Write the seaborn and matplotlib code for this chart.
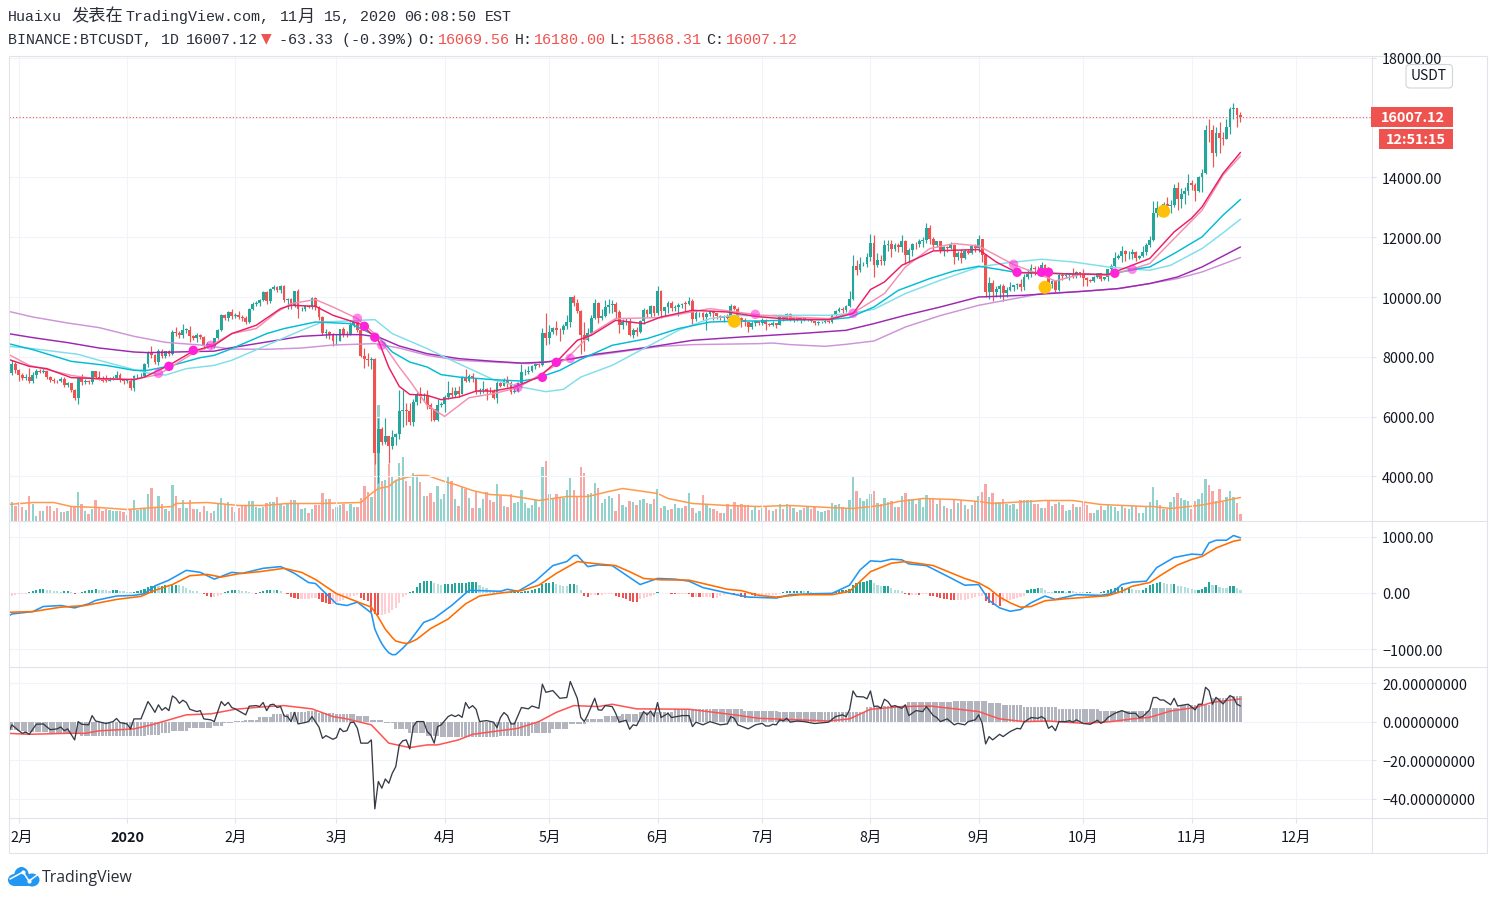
import numpy as np
import pandas as pd
import matplotlib
matplotlib.use("Agg")
import matplotlib.pyplot as plt
from matplotlib.patches import Rectangle, FancyBboxPatch, Ellipse
from matplotlib.transforms import Bbox, ScaledTranslation
import seaborn as sns

# ---------- candles, read month by month ----------
open_first = 7330
close_nov = [7450, 7750, 7555]
close_dec = [7400, 7280, 7310, 7195, 7395, 7540, 7505, 7510, 7335, 7220, 7200, 7190, 7250, 7065, 7110, 6885, 6620, 7290, 7150, 7190, 7145, 7510, 7315, 7255, 7200, 7195, 7250, 7305, 7385, 7220, 7195]
close_jan = [7200, 6965, 7345, 7355, 7355, 7760, 8150, 8055, 7815, 8195, 8020, 8185, 8110, 8815, 8810, 8720, 8900, 8910, 8700, 8635, 8725, 8660, 8385, 8430, 8340, 8615, 8910, 9390, 9285, 9505, 9350]
close_feb = [9385, 9330, 9290, 9180, 9615, 9755, 9805, 9905, 10165, 9855, 10270, 10350, 10240, 10370, 9905, 9935, 9690, 10185, 9595, 9600, 9690, 9665, 9965, 9655, 9315, 8785, 8825, 8720, 8525]
close_mar = [8525, 8915, 8760, 8755, 9070, 9155, 8905, 8040, 7935, 7895, 7935, 4800, 5575, 5165, 5360, 5030, 5330, 5410, 6180, 6210, 6185, 5810, 6495, 6765, 6680, 6735, 6375, 6250, 5880, 6395, 6410]
close_apr = [6640, 6795, 6735, 6860, 6770, 7340, 7200, 7365, 7285, 6865, 6890, 6915, 6860, 6855, 6620, 7115, 7035, 7240, 7120, 6825, 6850, 7130, 7480, 7505, 7535, 7700, 7770, 7735, 8780, 8620]
close_may = [8825, 8970, 8895, 8885, 9030, 9150, 9985, 9805, 9540, 8725, 8560, 8810, 9310, 9795, 9310, 9380, 9675, 9725, 9775, 9510, 9060, 9170, 9180, 8720, 8900, 8840, 9205, 9575, 9425, 9700, 9450]
close_jun = [10200, 9520, 9665, 9790, 9620, 9670, 9745, 9780, 9770, 9880, 9270, 9465, 9470, 9330, 9430, 9520, 9455, 9380, 9295, 9355, 9285, 9685, 9610, 9290, 9240, 9160, 9005, 9115, 9190, 9135]
close_jul = [9235, 9085, 9060, 9130, 9070, 9340, 9250, 9435, 9235, 9285, 9235, 9300, 9240, 9255, 9195, 9130, 9155, 9170, 9210, 9160, 9390, 9535, 9610, 9550, 9705, 9935, 11030, 10910, 11100, 11110, 11350]
close_aug = [11800, 11070, 11235, 11190, 11745, 11770, 11600, 11755, 11680, 11880, 11395, 11565, 11780, 11765, 11865, 11910, 12300, 11950, 11755, 11865, 11525, 11680, 11650, 11750, 11325, 11470, 11320, 11540, 11470, 11710, 11655]
close_sep = [11925, 11390, 10170, 10470, 10170, 10255, 10375, 10125, 10225, 10345, 10390, 10440, 10330, 10680, 10785, 10955, 10940, 10935, 11080, 10920, 10420, 10535, 10240, 10740, 10690, 10725, 10775, 10695, 10840, 10775]
close_oct = [10620, 10570, 10545, 10670, 10790, 10600, 10670, 10925, 11050, 11295, 11375, 11540, 11425, 11430, 11505, 11320, 11360, 11495, 11750, 11910, 12800, 12965, 12930, 13115, 13030, 13070, 13640, 13280, 13455, 13560, 13800]
close_nov2 = [13760, 13550, 14025, 14145, 15590, 15580, 14830, 15480, 15330, 15300, 15700, 16280, 16320, 16070, 16007.12]

up_nov = [60, 150, 90]
lo_nov = [120, 60, 80]
up_dec = [40, 70, 130, 300, 90, 60, 50, 130, 30, 30, 60, 40, 60, 60, 40, 20, 30, 30, 150, 60, 40, 20, 20, 220, 100, 180, 70, 60, 130, 80, 40]
lo_dec = [200, 50, 60, 70, 60, 90, 60, 40, 60, 70, 80, 50, 40, 60, 70, 60, 60, 190, 100, 60, 60, 70, 50, 40, 50, 50, 20, 30, 60, 50, 120]
up_jan = [20, 80, 60, 80, 100, 30, 40, 200, 30, 60, 60, 20, 50, 80, 170, 40, 200, 60, 130, 30, 60, 40, 50, 70, 30, 20, 30, 30, 50, 30, 100]
lo_jan = [60, 70, 100, 50, 40, 40, 100, 80, 60, 80, 60, 60, 80, 60, 100, 80, 90, 90, 200, 80, 140, 80, 130, 80, 60, 50, 30, 50, 40, 80, 100]
up_feb = [70, 150, 80, 60, 30, 70, 60, 30, 30, 50, 40, 50, 30, 30, 40, 40, 30, 20, 70, 70, 40, 50, 40, 30, 30, 40, 100, 50, 60]
lo_feb = [60, 60, 100, 80, 60, 40, 60, 90, 30, 100, 50, 50, 60, 120, 80, 320, 80, 30, 300, 70, 80, 40, 70, 100, 90, 50, 140, 110, 160]
up_mar = [225, 10, 75, 95, 100, 15, 30, 50, 265, 205, 65, 25, 380, 65, 580, 5, 230, 40, 720, 690, 240, 255, 95, 75, 225, 60, 155, 75, 10, 205, 95]
lo_mar = [125, 5, 110, 95, 15, 70, 60, 40, 305, 215, 305, 390, 1018, 110, 65, 586, 110, 295, 145, 540, 455, 80, 125, 115, 230, 155, 130, 395, 25, 20, 85]
up_apr = [95, 400, 205, 130, 155, 30, 260, 65, 90, 10, 60, 265, 55, 125, 80, 85, 35, 60, 135, 80, 95, 25, 270, 95, 165, 30, 25, 10, 170, 680]
lo_apr = [260, 50, 95, 80, 100, 5, 50, 50, 135, 115, 105, 110, 305, 65, 20, 160, 55, 25, 120, 75, 25, 40, 130, 80, 65, 55, 110, 60, 35, 220]
up_may = [235, 40, 215, 55, 70, 250, 5, 75, 115, 35, 445, 170, 85, 145, 50, 210, 225, 225, 125, 70, 50, 95, 130, 130, 75, 110, 20, 50, 35, 40, 5]
lo_may = [200, 65, 180, 355, 125, 100, 140, 105, 80, 625, 360, 25, 50, 55, 180, 90, 50, 195, 275, 210, 260, 130, 90, 20, 90, 140, 30, 95, 95, 85, 70]
up_jun = [180, 30, 15, 90, 60, 55, 55, 20, 100, 110, 70, 90, 25, 30, 70, 60, 40, 25, 20, 45, 70, 95, 35, 60, 50, 50, 20, 85, 50, 10]
lo_jun = [55, 235, 145, 215, 95, 90, 290, 105, 245, 25, 220, 60, 120, 100, 430, 55, 215, 100, 75, 125, 5, 5, 50, 90, 230, 120, 175, 65, 95, 75]
up_jul = [60, 35, 40, 70, 10, 35, 35, 35, 15, 30, 15, 45, 45, 25, 20, 15, 30, 40, 30, 15, 40, 15, 40, 40, 25, 275, 390, 220, 250, 75, 105]
lo_jul = [60, 175, 20, 40, 100, 20, 40, 20, 45, 60, 30, 90, 40, 30, 40, 50, 50, 20, 50, 40, 30, 50, 50, 100, 40, 40, 50, 180, 70, 70, 100]
up_aug = [320, 290, 250, 185, 155, 145, 145, 55, 65, 185, 40, 85, 20, 70, 70, 85, 180, 100, 70, 15, 15, 10, 40, 80, 25, 70, 120, 60, 55, 10, 75]
lo_aug = [150, 410, 70, 110, 110, 195, 255, 70, 165, 160, 295, 245, 195, 145, 85, 185, 110, 170, 185, 85, 55, 145, 130, 60, 205, 75, 190, 40, 40, 20, 135]
up_sep = [145, 30, 60, 190, 100, 105, 65, 65, 125, 145, 10, 40, 150, 100, 165, 145, 95, 100, 100, 10, 70, 40, 5, 50, 60, 45, 25, 180, 30, 10]
lo_sep = [135, 230, 170, 220, 295, 170, 290, 275, 125, 25, 145, 110, 130, 90, 70, 115, 210, 135, 45, 160, 50, 120, 90, 40, 130, 60, 140, 65, 55, 105]
up_oct = [145, 40, 30, 30, 10, 10, 10, 25, 50, 195, 65, 160, 20, 120, 95, 35, 40, 195, 70, 130, 420, 235, 65, 55, 225, 190, 150, 220, 195, 110, 300]
lo_oct = [240, 200, 45, 45, 30, 80, 30, 150, 95, 50, 15, 195, 225, 155, 175, 120, 40, 30, 95, 70, 30, 120, 210, 50, 230, 230, 70, 380, 300, 335, 140]
up_nov2 = [100, 50, 35, 135, 160, 370, 180, 190, 370, 180, 260, 60, 160, 10, 110]
lo_nov2 = [190, 350, 30, 505, 45, 395, 480, 130, 530, 220, 30, 240, 330, 370, 139]

# ---------- volume (pane heights, as read) ----------
vol_a_start = 1
vol_a = [19,15,19,14,11,25,17,5,10,10,15,15,10,13,9,9,10,14,14,29,17,10,7,12,21,13,10,12,11,10,10,10,9,6,11,21,11,12,12,27,33,14,25,17,12,10,36,25,13,21,13,21,12,12,9,15,10,8,10,17,23,16,19,14,9,13,16,15,20,20,14,13,14,18,19,19,24,17,15,17,21,21,17,12,13,8,12,16,16,28,22,22,12,14,16,17,10,17,14,14]
vol_b_start = 101
vol_b = [23,35,29,24,77,116,40,41,57,44,41,58,64,40,35,48,45,39,25,25,28,19,35,22,27,44,40,22,15,34,32,23,13,30,13,22,29,21,19,37,25,15,14,27,18,19,31,18,13,16,21,14,54,60,27,23,27,24,23,31,43,31,25,54,48,27,28,38,33,18,22,25,23,10,27,16,14,20,19,16,21,22,18,17,22,32,13,15,11,12,17,13,13,15,28,13,8,10,26,17,13,12,10,8,8,17,12,19,16,16]
vol_c_start = 210
vol_c = [17,16,16,11,14,11,13,15,11,10,12,17,12,17,16,13,9,11,13,15,12,14,10,9,10,11,18,16,17,14,12,21,45,30,23,20,22,27,30,18,17,23,19,20,14,14,25,28,22,22,17,22,14,26,23,22,17,22,15,13,12,21,18,21,16,12,16,20,25,29,37,24,28,19,19,22,17,16,17,12,21,21,21,21,17,17,13,13,21,15,17,19,16,10,11,17,14,14,20,17,9,9,12,14,13,17,16,16,11,16,13,13,13,16]
vol_d_start = 308
vol_d = [19,16,8,8,11,15,11,16,15,14,10,16,13,12,15,15,8,8,15,19,34,21,16,12,12,19,24,28,23,21,20,12,20,22,28,42,36,30,20,32,19,24,30,24,18,7]
vol_ma_x = [0,7,13,18,26,34,42,47,48,57,66,73,80,89,101,104,106,109,111,114,117,120,125,128,133,138,143,147,152,160,166,172,176,182,186,189,196,206,215,224,235,242,250,255,260,262,271,278,282,297,305,313,326,328,333,341,346,353]
vol_ma_y = [16,18,18,14,13,11,13,14,17,18,15,15,17,17,18,27,32,34,40,43,45,45,39,36,30,26,25,23,20,24,24,29,32,29,27,22,17,15,14,15,13,12,15,19,21,22,21,19,17,20,20,16,14,14,12,15,18,23]

# ---------- moving averages on price ----------
fast_x = [0,6,11,18,36,39,46,53,59,64,71,78,81,88,93,99,101,106,109,112,115,120,124,129,134,139,145,152,157,163,167,174,182,187,196,206,215,224,235,242,247,251,256,265,271,278,283,289,300,315,317,327,334,339,342,348,353]
fast_y = [7916,7682,7605,7304,7236,7324,7715,8194,8385,8776,9054,9613,9723,9690,9389,9164,9088,8552,7650,7012,6744,6711,6567,6654,6855,6855,6989,7324,7826,8552,8719,9221,9111,9332,9556,9499,9340,9255,9245,9446,10249,10503,11062,11541,11564,11587,11173,10818,10785,10750,10838,11287,12177,12635,13014,14132,14834]
fast2_x = [0,6,18,26,36,43,52,59,64,71,77,81,88,93,100,106,112,115,120,125,132,139,146,152,160,167,174,187,201,215,224,235,242,251,257,264,271,278,288,296,300,308,315,322,327,334,342,348,353]
fast2_y = [8083,7715,7380,7247,7247,7404,8050,8441,8776,8944,9499,9780,9914,9666,9278,8663,7658,7200,6376,6008,6634,6768,6969,7380,7940,8776,9278,9312,9613,9400,9332,9278,9466,10115,11005,11621,11788,11708,11085,10728,10537,10785,10728,10935,11119,11955,12903,14075,14711]
mid_x = [0,7,18,28,36,40,47,55,59,64,74,79,88,98,106,110,115,120,124,129,139,147,151,158,164,173,183,192,201,210,215,224,235,241,248,255,264,271,278,284,289,296,305,315,324,327,334,342,348,353]
mid_y = [8441,8241,7849,7715,7548,7548,7715,7973,8050,8274,8776,8944,9164,9111,8663,8161,7826,7658,7404,7324,7236,7190,7270,7548,7916,8385,8609,8944,9164,9198,9198,9230,9245,9312,9666,10225,10617,10871,11029,10918,10818,10818,10761,10751,10952,11005,11454,12010,12736,13261]
mid2_x = [0,7,20,26,36,40,45,51,59,64,74,84,90,97,105,110,120,129,139,147,154,159,164,173,182,192,201,208,215,219,235,241,248,257,267,278,286,296,305,315,324,327,333,342,348,353]
mid2_y = [8351,8274,8083,7883,7571,7458,7390,7605,7715,7883,8385,8887,9164,9198,9245,8776,8274,7772,7236,6989,6835,6912,7324,7715,8274,8887,9278,9389,9365,9389,9389,9446,9590,10115,10560,11005,11140,11263,11173,11005,10918,10895,11062,11621,12143,12602]
slow_x = [0,7,17,26,36,40,48,59,64,74,84,93,101,106,112,120,129,139,147,154,162,168,177,187,196,210,215,229,240,248,257,267,278,291,308,318,327,335,342,353]
slow_y = [8776,8642,8475,8295,8161,8140,8161,8190,8307,8496,8686,8742,8742,8663,8362,8105,7940,7850,7790,7826,7940,8083,8217,8385,8552,8663,8696,8796,8887,9111,9389,9666,10001,10058,10192,10282,10450,10671,11005,11675]
slow2_x = [0,7,17,26,36,45,55,64,74,84,93,105,112,120,129,139,149,158,168,177,187,196,215,219,224,234,240,248,257,267,278,296,308,318,327,335,342,353]
slow2_y = [9522,9332,9131,8977,8686,8485,8395,8261,8251,8294,8395,8441,8294,8050,7883,7826,7772,7883,8050,8194,8351,8408,8441,8462,8408,8351,8418,8529,8997,9379,9723,10115,10192,10282,10450,10617,10838,11320]

# ---------- signal dots ----------
dot_soft_x = [43,58,100,107,146,161,214,242,288,322]
dot_soft_y = [7447,8385,9288,8385,6979,7949,9422,9456,11096,10928]
dot_hard_x = [46,53,102,105,153,157,289,296,298,317]
dot_hard_y = [7682,8217,9021,8652,7314,7816,10828,10828,10828,10795]
dot_gold_x = [208,297,331]
dot_gold_y = [9188,10326,12870]

# ---------- MACD ----------
macd_x = [0,1,7,10,15,19,23,25,31,36,39,42,46,51,55,59,64,67,73,78,82,86,88,94,97,100,104,105,106,107,108,109,110,111,113,115,119,122,127,132,141,143,146,151,156,160,162,163,166,169,173,177,181,186,191,195,199,206,212,220,224,231,236,241,244,247,250,253,256,258,263,268,274,278,281,284,287,290,293,297,300,306,313,316,319,322,326,329,332,334,339,342,344,346,349,351,353]
macd_y = [-414,-372,-330,-240,-222,-264,-192,-132,-54,-42,-12,126,228,402,366,246,366,348,438,468,348,186,168,-192,-222,-162,-354,-640,-780,-900,-990,-1060,-1095,-1092,-980,-852,-522,-450,-222,48,30,66,30,210,486,558,666,666,468,498,486,318,150,258,246,210,96,0,-72,-90,-30,-12,-6,138,408,570,558,600,588,516,486,330,138,150,-132,-264,-324,-294,-174,-54,-114,-30,-42,-12,150,192,210,450,558,630,690,678,888,936,936,1020,978]
sig_x = [0,7,15,22,31,38,42,47,52,57,61,66,72,79,84,88,94,99,104,106,108,110,111,113,114,115,117,121,126,131,135,141,147,152,157,163,168,174,178,182,187,195,206,210,215,220,227,236,241,247,253,257,265,274,278,281,284,287,290,293,297,303,315,319,322,327,331,335,339,342,346,351,353]
sig_y = [-342,-330,-252,-222,-114,-60,48,150,306,330,282,342,378,438,366,240,-12,-132,-252,-430,-642,-790,-852,-885,-894,-880,-822,-630,-462,-192,-54,0,42,138,348,558,522,486,378,258,234,228,66,42,-42,-72,-30,-30,30,378,528,558,486,258,180,78,-72,-174,-252,-240,-138,-102,-48,30,120,186,348,498,594,648,798,918,942]
hist_a_start = 0
hist_a = [-48,-48,-36,-12,-12,-12,24,36,54,72,72,60,48,42,30,24,30,30,12,-24,6,24,36,48,60,66,60,54,48,42,54,60,36,30,24,12,18,36,48,66,102,120,132,120,132,144,138,150,150,144,120,90,60,42,30,6,-18,-54,-72,-72,-54,-30,12,36,60,60,48,42,30,18,-6,-12,24,36,48,54,48,54,42,-6,-24,-72,-96,-114,-114,-114,-114,-96,-90,-114,-156,-180,-198,-198,-168,-150,-132,-96,-78,-60,-36,-90,-132,-150,-330,-372,-390,-390,-372,-348,-300,-264,-180,-72,-30,18,36,108,180,204,216,216,180,162,150,162,162,168,180,180,180,180,192,192,192,150,108,90,60,36,18]
hist_b_start = 141
hist_b = [6,12,12,18,18,18,24,30,42,54,72,90,168,174,180,192,168,150,132,120,156,156,144,48,-54,-72,-36,-30,-42,-30,-18,-18,-18,-48,-72,-90,-108,-144,-156,-168,-108,-90,-72,-48,-36,24,6,6,0,-12,-24,-24,-18,-12,-24,-72,-72,-78,-78,-78,-72,-84,-84,-60,-36,-18,-24,-36,-36,-72,-84,-24,-30,-48,-48,-48,-42,-36,-36,-36,-18,18,30,30,30,36,36,30,30,18,6,-12,-12,-12,-12,-12,18,48,48,60,72,144,180,192,192,204,228,180,150,120,120,120,90,60,48,42,-18,-42,-36,-36,-42,-18,-18,-48,-60,-78,-84,-102,-108,-120,-132,-132,-132,-120,-108,-90,-72,-60,-48,-150,-180,-210,-210,-228]
hist_c_start = 285
hist_c = [-168,-150,-120,-108,-90,-72,-48,48,72,72,90,84,48,24,18,30,30,36,24,36,30,24,18,12,12,18,6,6,18,30,48,72,90,108,108,84,84,72,60,48,60,90,144,168,180,192,180,168,156,168,132,120,108,96,72,60,60,72,108,192,144,144,108,96,84,132,132,84,60]

# ---------- third pane ----------
osc_x = [0,1,3,4,5,6,8,10,12,14,15,16,17,19,20,21,23,24,25,28,30,31,32,34,35,36,38,40,41,42,43,44,45,46,47,48,49,50,51,52,54,55,56,58,59,60,61,62,63,64,65,68,69,71,72,73,74,75,76,77,78,79,80,81,82,83,85,86,87,89,90,91,93,94,95,96,97,98,99,100,101,103,104,105,106,107,108,109,110,111,112,113,114,115,116,117,119,120,121,122,123,124,126,127,128,129,130,131,132,133,134,135,137,139,140,141,142,143,144,145,147,149,150,152,153,154,156,158,160,161,163,164,165,166,168,169,170,171,173,174,175,177,178,179,180,182,183,184,185,186,187,189,190,193,195,196,197,199,201,204,206,207,208,209,212,214,216,217,218,219,220,221,222,223,224,226,228,231,235,237,239,240,241,242,243,245,246,247,248,249,250,251,252,253,254,256,257,258,260,262,263,265,266,267,269,271,272,274,275,277,278,279,280,281,282,284,285,287,289,290,291,293,295,296,297,298,299,300,301,303,304,305,306,308,310,312,313,314,315,317,319,321,323,324,325,327,328,329,330,331,333,334,335,338,340,341,342,343,344,345,346,348,350,351,352,353]
osc_y = [-6.1,-1.7,-4.7,-6.1,-5.5,-6.6,-1.4,-1.2,-4.2,-3.8,-2.8,-4.7,-3.8,-9.5,0,-1.4,-1.7,3.1,0.3,-1.0,0,1.6,-0.5,-1.2,-3.8,1.4,1.4,10.4,7.8,4.8,8.7,5.9,7.3,5.7,13.3,12.1,9.5,11.1,9.9,6.4,5.2,5.7,1.4,0.9,0,5.2,10.4,8.3,10,7.3,6.6,3.5,8,8.3,7.8,9.9,5.7,8.7,9,7.3,7.8,2.9,2.6,0,4.8,-1.2,-0.5,0,2.6,-2.9,-8.7,-7.3,-9.2,-8.3,-3.5,-5.2,-4.7,-0.5,-0.3,-3.5,-11.2,-11.2,-9.5,-45.3,-31.1,-34.6,-29.8,-32,-26.8,-23.4,-12.1,-10,-9.5,-14.2,-2.6,0,0,-5.2,-6.9,-11.2,-2.6,-1.7,2.6,3.5,2.6,3.5,2.2,9.9,6.9,8.3,6.4,0,0.5,-0.3,-3.1,2.1,4.7,3.1,-1.2,-1.2,7.3,6.6,8.1,6.9,19.4,15.2,16.1,12.1,12.5,20.8,12.1,2.2,0,3.5,12.1,6.1,5.9,8.3,7.8,4.3,-0.3,0.7,-4.0,-1.7,-2.1,5.2,3.5,5.5,2.6,9.9,2.1,4.3,2.1,3.1,3.1,-2.6,-0.3,-1.7,0,-1.7,-1.2,2.6,1.7,-1.7,-3.8,-1.7,-0.9,-2.3,-2.3,-1.4,-1.7,0.9,0.3,1.7,-0.3,0.3,0,-1.0,-0.3,2.6,3.5,2.6,6.1,15.9,13,12.8,11.8,15.9,7.8,8.1,6.9,11.6,10.4,7.8,8.3,6.9,8.7,3.1,5.7,5.2,7.8,3.1,2.1,0,1.4,-1.7,-0.9,-1.7,0,0.9,3.5,-0.9,-11.6,-7.8,-9.5,-6.6,-7.8,-5.2,-3.5,-3.8,-0.3,2.1,1.7,2.6,1.4,-3.5,-2.3,-4.7,0,0,0.5,-0.3,0.9,-1.0,-1.4,0.7,-0.9,0,2.1,4.3,5.7,4.3,4.3,2.1,2.6,6.1,12.5,12.5,11.2,11.2,8.7,12.1,8.1,9,6.1,9,9,17.8,16.1,9,12.6,9.2,13.5,12.5,9,8.1]
osc_ma_x = [0,6,17,22,26,36,41,46,51,58,65,74,79,87,93,97,104,109,115,120,123,129,133,141,146,152,157,162,169,173,180,195,208,215,235,241,247,256,264,278,284,291,298,308,316,322,327,333,340,345,353]
osc_ma_y = [-6.1,-6.6,-6.1,-6.1,-4.8,-3.8,-1.7,0.9,3.5,4.0,6.4,7.8,8.3,6.6,2.6,1.4,-1.7,-11.2,-13.5,-12.1,-12.1,-9.5,-6.6,-4.7,-3.5,0,4.8,8.3,7.8,9,6.6,6.4,3.5,1.7,0.3,1.4,6.4,7.8,8.1,5.2,1.4,0,0.3,-0.9,0,1.4,2.2,5.5,7.3,10,11.8]
grey_levels = [-4.3,-4.8,-5,-5.2,-5.3,-5.5,-6,-7.3,-6.9,-6,-4.7,-3.5,-2.2,-0.9,0.1,0.9,2.6,3.8,4.8,5.5,4.7,3.8,3.1,1,-0.9,-3.8,-6,-7.3,-8.1,-7.8,-7.5,-6,-3.8,-1,1.2,3.1,3.8,5.2,6.4,5.7,4.8,5.2,7.8,8.3,10.4,10.7,9.5,8.7,7.8,6.4,5.5,7.3,8.7,12,13.5]
grey_runs = [3,1,1,1,1,5,9,19,4,3,5,7,3,3,3,4,4,5,5,3,5,6,4,4,3,4,5,4,7,10,9,6,5,5,5,5,5,10,20,10,16,9,5,7,13,10,4,6,10,12,15,8,9,5,4]

# ---------- axis labels ----------
month_pos = [3, 34, 65, 94, 125, 155, 186, 216, 247, 278, 308, 339, 369]
month_labels = ["2月", "2020", "2月", "3月", "4月", "5月", "6月", "7月", "8月", "9月", "10月", "11月", "12月"]
price_ticks = [4000, 6000, 8000, 10000, 12000, 14000, 16000]
price_labels = ["4000.00", "6000.00", "8000.00", "10000.00", "12000.00", "14000.00", "16000.00"]
macd_ticks = [-1000, 0, 1000]
macd_labels = ["−1000.00", "0.00", "1000.00"]
osc_ticks = [-40, -20, 0, 20]
osc_labels = ["−40.00000000", "−20.00000000", "0.00000000", "20.00000000"]

UP, DOWN = "#26a69a", "#ef5350"
GRID, EDGE, INK = "#f0f3fa", "#e0e3eb", "#131722"
W, H = 1495, 900

sns.set_theme(style="white")
plt.rcParams["font.family"] = ["Noto Sans CJK SC", "DejaVu Sans"]

closes = np.array(close_nov + close_dec + close_jan + close_feb + close_mar + close_apr + close_may + close_jun + close_jul + close_aug + close_sep + close_oct + close_nov2, dtype=float)
uppers = np.array(up_nov + up_dec + up_jan + up_feb + up_mar + up_apr + up_may + up_jun + up_jul + up_aug + up_sep + up_oct + up_nov2, dtype=float)
lowers = np.array(lo_nov + lo_dec + lo_jan + lo_feb + lo_mar + lo_apr + lo_may + lo_jun + lo_jul + lo_aug + lo_sep + lo_oct + lo_nov2, dtype=float)
n = len(closes)
assert n == 354 and len(uppers) == n and len(lowers) == n, (n, len(uppers), len(lowers))
opens = np.r_[open_first, closes[:-1]]
opens[-1] = 16069.56
days = np.arange(n)
rising = closes >= opens
candle_col = np.where(rising, UP, DOWN)
tops = np.maximum(opens, closes)
bots = np.minimum(opens, closes)

def place(chunks):
    out = np.zeros(n)
    for start, vals in chunks:
        vals = np.asarray(vals, dtype=float)[: n - start]
        out[start:start + len(vals)] = vals
    return out

volume = place([(vol_a_start, vol_a), (vol_b_start, vol_b), (vol_c_start, vol_c), (vol_d_start, vol_d)])
hist = place([(hist_a_start, hist_a), (hist_b_start, hist_b), (hist_c_start, hist_c)])
grey = np.repeat(grey_levels, grey_runs)
assert len(grey) == n, len(grey)

hist_col = []
for k, v in enumerate(hist):
    prev = hist[k - 1] if k else v
    if v >= 0:
        hist_col.append("#26a69a" if v >= prev else "#b2dfdb")
    else:
        hist_col.append("#ffcdd2" if v >= prev else "#ef5350")

fig = plt.figure(figsize=(W / 100, H / 100), dpi=100, facecolor="white")

def pane(top, bottom, left=9, right=1371):
    return fig.add_axes([left / W, 1 - bottom / H, (right - left) / W, (bottom - top) / H])

ax = pane(56, 520.5)
ax_m = pane(520.5, 666.5)
ax_o = pane(666.5, 817.5)
XLIM = (0.19, 390.4)
DOWN_1PX = ScaledTranslation(0, -1 / 100, fig.dpi_scale_trans)

def style(a, ticks, labels, ylim):
    a.set_xlim(*XLIM)
    a.set_ylim(*ylim)
    a.set_facecolor("none")
    for s in a.spines.values():
        s.set_visible(False)
    a.yaxis.tick_right()
    a.set_yticks(ticks)
    a.set_yticklabels(labels, fontsize=10.4, color=INK)
    a.tick_params(axis="y", length=3.6, width=0.8, color=EDGE, pad=4.3, right=True)
    a.set_xticks(month_pos)
    a.set_xticklabels([])
    a.tick_params(axis="x", length=0)
    a.grid(True, color=GRID, linewidth=0.8)
    a.set_axisbelow(True)

# volume lies beneath the candles on its own scale
ax_v = fig.add_axes(ax.get_position(), zorder=0)
ax.set_zorder(1)
ax_m.set_zorder(1)
ax_o.set_zorder(1)
style(ax, price_ticks, price_labels, (2527, 18059))
style(ax_m, macd_ticks, macd_labels, (-1304, 1286))
style(ax_o, osc_ticks, osc_labels, (-49.8, 28.6))
ax.set_yticks(price_ticks + [18000])
ax.set_yticklabels(price_labels + [""])

ax_v.bar(days, volume, width=0.68, color=candle_col, alpha=0.5, linewidth=0)
sns.lineplot(x=vol_ma_x, y=vol_ma_y, ax=ax_v, color="#ff9a4d", linewidth=1.1, estimator=None, sort=False, legend=False, errorbar=None)
ax_v.axis("off")

# candles
ax.vlines(days, bots - lowers, tops + uppers, colors=candle_col, linewidth=0.85, zorder=2)
ax.bar(days, np.maximum(tops - bots, 14), bottom=bots, width=0.8, color=candle_col, linewidth=0, zorder=2.2)
ax.axhline(closes[-1], color=DOWN, linewidth=0.8, linestyle=(0, (1, 2)), zorder=1.5)

ma_table = [
    (slow2_x, slow2_y, "#ce93d8", 1.05),
    (slow_x, slow_y, "#9c27b0", 1.05),
    (mid2_x, mid2_y, "#80deea", 1.05),
    (mid_x, mid_y, "#00bcd4", 1.05),
    (fast2_x, fast2_y, "#f48fb1", 1.05),
    (fast_x, fast_y, "#e91e63", 1.05),
]
for mx, my, col, lw in ma_table:
    sns.lineplot(x=mx, y=my, ax=ax, color=col, linewidth=lw, estimator=None, sort=False, legend=False, errorbar=None, zorder=3)

sns.scatterplot(x=dot_soft_x, y=dot_soft_y, ax=ax, color="#ff22d8", alpha=0.55, s=46, edgecolor="none", legend=False, zorder=4)
sns.scatterplot(x=dot_hard_x, y=dot_hard_y, ax=ax, color="#ff22d8", s=46, edgecolor="none", legend=False, zorder=4.1)
sns.scatterplot(x=dot_gold_x, y=dot_gold_y, ax=ax, color="#ffc107", s=88, edgecolor="none", legend=False, zorder=4.2)

# MACD pane
ax_m.bar(days, hist, width=0.62, color=hist_col, linewidth=0, zorder=2)
sns.lineplot(x=macd_x, y=macd_y, ax=ax_m, color="#2196f3", linewidth=1.15, estimator=None, sort=False, legend=False, errorbar=None, zorder=3)
sns.lineplot(x=sig_x, y=sig_y, ax=ax_m, color="#ff6d00", linewidth=1.15, estimator=None, sort=False, legend=False, errorbar=None, zorder=3.1)

# oscillator pane
ax_o.bar(days, grey, width=0.8, color="#b2b5be", linewidth=0, zorder=2)
sns.lineplot(x=osc_ma_x, y=osc_ma_y, ax=ax_o, color="#ff5252", linewidth=1.1, estimator=None, sort=False, legend=False, errorbar=None, zorder=3)
sns.lineplot(x=osc_x, y=osc_y, ax=ax_o, color="#363a45", linewidth=0.95, estimator=None, sort=False, legend=False, errorbar=None, zorder=3.1)

for a in (ax, ax_m, ax_o, ax_v):
    a.set_xlabel("")
    a.set_ylabel("")
    a.set_xlim(*XLIM)
ax.set_ylim(2527, 18059)
ax_m.set_ylim(-1304, 1286)
ax_o.set_ylim(-49.8, 28.6)
ax_v.set_ylim(0, 464.5)

for a in (ax, ax_m, ax_o):
    for lab in a.get_yticklabels():
        lab.set_transform(lab.get_transform() + DOWN_1PX)

# month labels under the last pane
ax_o.set_xticklabels(month_labels, fontsize=10.4, color=INK)
ax_o.tick_params(axis="x", length=3.6, width=0.8, color=EDGE, pad=6, bottom=True)
tick_labs = ax_o.get_xticklabels()
tick_labs[0].set_transform(tick_labs[0].get_transform() + ScaledTranslation(3 / 100, 0, fig.dpi_scale_trans))
tick_labs[1].set_fontweight("bold")

# overlay in pixel coordinates: frame, price tags, header, logo
ov = fig.add_axes([0, 0, 1, 1], zorder=5)
ov.set_xlim(0, W)
ov.set_ylim(H, 0)
ov.axis("off")
ov.patch.set_alpha(0)

for (x0, y0, x1, y1) in [(8.5, 56, 1486.5, 56), (8.5, 853, 1486.5, 853), (8.5, 56, 8.5, 853), (1486.5, 56, 1486.5, 853),
                         (1371.5, 56, 1371.5, 853), (8.5, 520.5, 1486.5, 520.5), (8.5, 666.5, 1486.5, 666.5), (8.5, 817.5, 1486.5, 817.5)]:
    ov.plot([x0, x1], [y0, y1], color=EDGE, linewidth=0.8, solid_capstyle="butt", zorder=1)

clip = Bbox([[1372, 0], [1486, H - 56.5]])
ov.text(1382, 60, "18000.00", fontsize=10.4, color=INK, va="center", ha="left", clip_on=True, clip_box=clip)

ov.add_patch(Rectangle((1371, 107.3), 82, 20, color=DOWN, linewidth=0, zorder=3))
ov.add_patch(Rectangle((1379, 129.3), 74, 20, color=DOWN, linewidth=0, zorder=3))
ov.text(1412.5, 117.5, "16007.12", color="white", fontsize=10.4, fontweight="bold", ha="center", va="center", zorder=4)
ov.text(1416, 139.5, "12:51:15", color="white", fontsize=10.4, fontweight="bold", ha="center", va="center", zorder=4)
ov.add_patch(FancyBboxPatch((1406, 64.5), 46.5, 23.5, boxstyle="round,pad=0,rounding_size=4",
                            facecolor="white", edgecolor="#d1d4dc", linewidth=0.8, zorder=3))
ov.text(1429, 76, "USDT", color=INK, fontsize=10, ha="center", va="center", zorder=4)

MONO = ["Liberation Mono", "Noto Sans CJK SC", "DejaVu Sans"]
CJK = ["Noto Sans CJK SC", "DejaVu Sans"]
HEAD = 10.8
HEAD_CJK = 12.4
INK2 = "#2a2e39"
for xt, txt in [(8, "Huaixu"), (125.5, "TradingView.com,"), (280, "11"), (324, "15,"), (360, "2020"), (404, "06:08:50"), (485, "EST")]:
    ov.text(xt, 17, txt, family=MONO, fontsize=HEAD, color=INK2, va="center")
for xt, txt in [(71, "发表在"), (298, "月")]:
    ov.text(xt, 16.5, txt, family=CJK, fontsize=HEAD_CJK, color=INK2, va="center")
ov.text(8, 40, "BINANCE:BTCUSDT, 1D", family=MONO, fontsize=HEAD, color=INK2, va="center")
ov.text(186, 40, "16007.12", family=MONO, fontsize=HEAD, color=INK2, va="center")
ov.text(261, 38, "▼", family=["DejaVu Sans"], fontsize=10, color=DOWN, va="center")
ov.text(279, 40, "-63.33 (-0.39%)", family=MONO, fontsize=HEAD, color=INK2, va="center")
for xl, lab, xv, val in [(418, "O:", 438, "16069.56"), (515, "H:", 534, "16180.00"), (609, "L:", 630, "15868.31"), (706, "C:", 726, "16007.12")]:
    ov.text(xl, 40, lab, family=MONO, fontsize=HEAD, color=INK2, va="center")
    ov.text(xv, 40, val, family=MONO, fontsize=HEAD, color=DOWN, va="center")

# logo
blue = "#2196f3"
ov.add_patch(Ellipse((21.5, 876), 15, 18, color=blue, linewidth=0))
ov.add_patch(Ellipse((14.5, 880), 13, 12, color=blue, linewidth=0))
ov.add_patch(Ellipse((32, 880), 15, 13, color=blue, linewidth=0))
ov.add_patch(Rectangle((14, 880), 18, 6, color=blue, linewidth=0))
ov.plot([10, 23, 29, 40], [879, 872, 881, 873], color="white", linewidth=1.1)
ov.scatter([23, 29], [872, 881], s=9, color="white", linewidths=0, zorder=6)
ov.text(42, 878, "TradingView", family=["Open Sans", "DejaVu Sans"], fontsize=11.4, color=INK2, va="center")

fig.savefig("out.png", dpi=100, facecolor="white")
